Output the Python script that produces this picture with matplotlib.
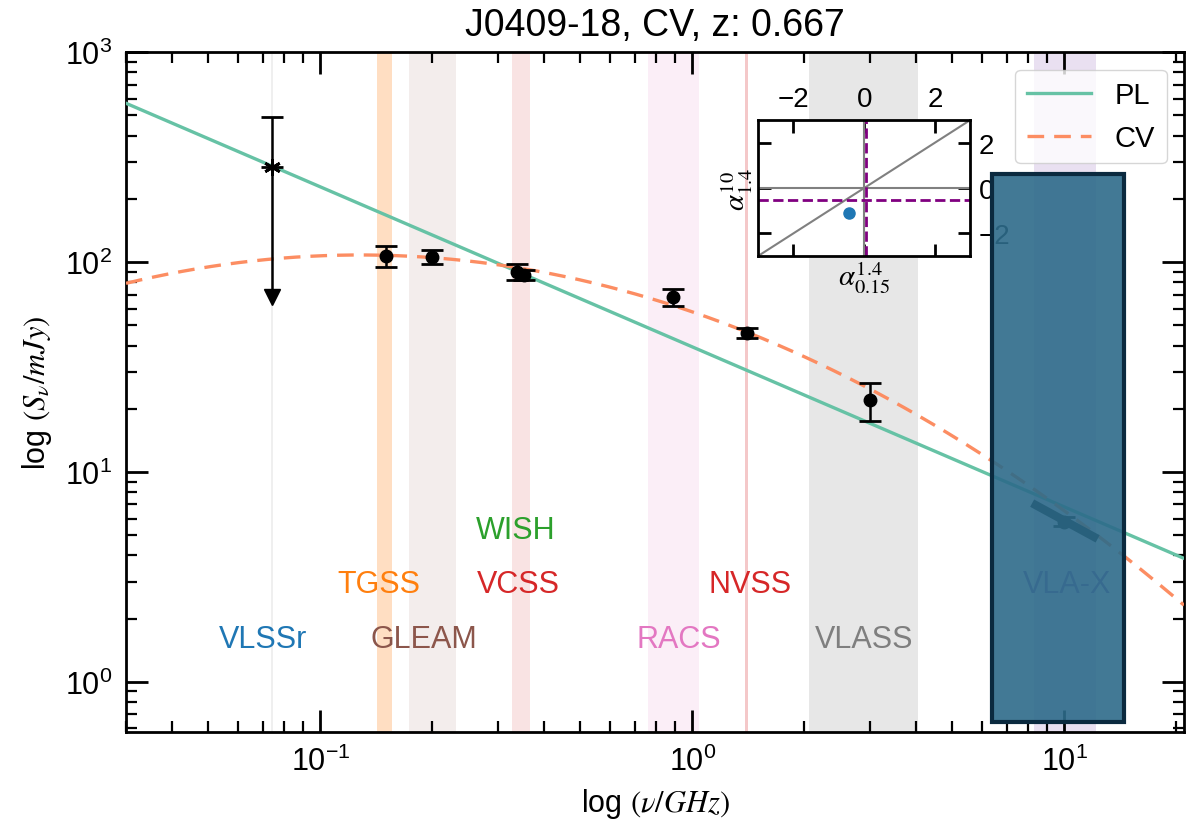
import numpy as np
import matplotlib
matplotlib.use('Agg')
import matplotlib.pyplot as plt
from matplotlib.patches import Rectangle

plt.rcParams['font.family'] = ['Liberation Sans', 'DejaVu Sans']
plt.rcParams['mathtext.fontset'] = 'custom'
plt.rcParams['mathtext.rm'] = 'Liberation Sans'
plt.rcParams['mathtext.it'] = 'Liberation Sans:italic'

# measured flux densities (GHz, mJy)
freq = [0.15, 0.20, 0.338, 0.352, 0.888, 1.4, 3.0, 10.0]
flux = [107, 106, 90, 87, 68, 46, 22, 5.8]
flux_err = [12, 8, 8, 5, 6, 2.5, 4.5, 0.3]

# VLSSr upper limit
vlssr_freq = 0.074
vlssr_flux = 285
vlssr_hi = 490
vlssr_lim = 68

# in-band slope at VLA-X
inband_freq = [8.2, 12.3]
inband_flux = [7.1, 4.8]

# fitted models
pl_norm = 30.5      # mJy at 1.4 GHz
pl_alpha = -0.762
cv_peak_freq = 0.128
cv_peak_flux = 108
cv_curv = -0.34

# survey bands
band_lo = [0.0738, 0.1415, 0.173, 0.328, 0.762, 1.39, 2.06, 8.3]
band_hi = [0.0746, 0.156, 0.231, 0.367, 1.04, 1.415, 4.05, 12.2]
band_colors = ['tab:gray', 'tab:orange', 'tab:brown', 'tab:red', 'tab:pink', 'tab:red', 'tab:gray', 'tab:purple']
band_alpha = [0.12, 0.25, 0.1, 0.13, 0.12, 0.25, 0.18, 0.2]

# survey names
label_names = ['VLSSr', 'TGSS', 'GLEAM', 'WISH', 'VCSS', 'RACS', 'NVSS', 'VLASS', 'VLA-X']
label_x = [0.0703, 0.144, 0.19, 0.336, 0.34, 0.92, 1.43, 2.9, 10.2]
label_y = [1.6, 2.94, 1.6, 5.3, 2.94, 1.6, 2.94, 1.6, 2.94]
label_colors = ['tab:blue', 'tab:orange', 'tab:brown', 'tab:green', 'tab:red', 'tab:pink', 'tab:red', 'tab:gray', 'tab:purple']

# colour-colour inset
alpha_low = [-0.42]
alpha_high = [-1.1]
alpha_low_cut = 0.05
alpha_high_cut = -0.53

fig = plt.figure(figsize=(11.92, 8.29), dpi=100)
ax = fig.add_axes([0.1057, 0.1158, 0.8876, 0.8202])

for lo, hi, c, a in zip(band_lo, band_hi, band_colors, band_alpha):
    ax.axvspan(lo, hi, color=c, alpha=a, lw=0, zorder=0)

nu = np.logspace(np.log10(0.03), np.log10(21), 300)
pl = pl_norm * (nu / 1.4) ** pl_alpha
cv = cv_peak_flux * 10 ** (cv_curv * np.log10(nu / cv_peak_freq) ** 2)
ax.plot(nu, pl, color='#66c2a5', lw=2.4, label='PL', zorder=3)
ax.plot(nu, cv, color='#fc8d62', lw=2.4, ls=(0, (5, 3)), label='CV', zorder=3)

ax.errorbar(freq, flux, yerr=flux_err, fmt='o', color='k', ms=9,
            capsize=8, capthick=2, elinewidth=1.8, zorder=5)
ax.plot(inband_freq, inband_flux, color='k', lw=6, solid_capstyle='butt', zorder=4)

# upper limit
ax.errorbar([vlssr_freq], [vlssr_flux], yerr=[[0], [vlssr_hi - vlssr_flux]],
            fmt='none', ecolor='k', capsize=8, capthick=2, elinewidth=1.8, zorder=5)
ax.vlines(vlssr_freq, vlssr_lim, vlssr_flux, color='k', lw=1.8, zorder=5)
ax.plot([vlssr_freq], [vlssr_lim], marker='v', color='k', ms=12, zorder=5)
ax.plot([vlssr_freq], [vlssr_flux], marker=(6, 2, 0), color='k', ms=12, mew=2, zorder=6)

for name, x, y, c in zip(label_names, label_x, label_y, label_colors):
    ax.text(x, y, name, color=c, fontsize=22, ha='center', va='center', zorder=4)

ax.set_xscale('log')
ax.set_yscale('log')
ax.set_xlim(0.03, 21)
ax.set_ylim(0.577, 1000)
ax.tick_params(which='both', direction='in', top=True, right=True, labelsize=22)
ax.tick_params(which='major', length=16, width=2, pad=10)
ax.tick_params(which='minor', length=8, width=1.6)
for s in ax.spines.values():
    s.set_linewidth(2)
ax.set_xlabel(r'log $(\nu/GHz)$', fontsize=22, math_fontfamily='stix', labelpad=6)
ax.set_ylabel(r'log $(S_\nu/mJy)$', fontsize=22, math_fontfamily='stix', labelpad=8)
ax.set_title('J0409-18, CV, z: 0.667', fontsize=27, pad=12)
ax.legend(loc='upper right', fontsize=21, frameon=True, fancybox=True,
          edgecolor='#cccccc', handlelength=2.2, borderaxespad=0.6)

# inset
ins = fig.add_axes([0.636, 0.690, 0.178, 0.164])
ins.plot([-3, 3], [-3, 3], color='gray', lw=1.5)
ins.axhline(0, color='gray', lw=1.5)
ins.axvline(0, color='gray', lw=1.5)
ins.axvline(alpha_low_cut, color='purple', lw=2, ls='--')
ins.axhline(alpha_high_cut, color='purple', lw=2, ls='--')
ins.plot(alpha_low, alpha_high, 'o', color='tab:blue', ms=8)
ins.set_xlim(-3, 3)
ins.set_ylim(-3, 3)
ins.set_xticks([-2, 0, 2])
ins.set_yticks([-2, 0, 2])
ins.tick_params(direction='in', top=True, right=True, labeltop=True, labelbottom=False,
                labelright=True, labelleft=False, length=9, width=2, labelsize=20, pad=6)
for s in ins.spines.values():
    s.set_linewidth(2)
ins.set_xlabel(r'$\alpha_{0.15}^{1.4}$', fontsize=21, math_fontfamily='stix', labelpad=2)
ins.set_ylabel(r'$\alpha_{1.4}^{10}$', fontsize=21, math_fontfamily='stix', labelpad=2)
ins.yaxis.set_label_position('left')

# overlay box
fig.add_artist(Rectangle((0.832, 0.128), 0.111, 0.661, transform=fig.transFigure,
                         facecolor=(0.176, 0.42, 0.54, 0.9), edgecolor='#0b2a3f',
                         lw=3, zorder=20))

fig.savefig('out.png', dpi=100)
